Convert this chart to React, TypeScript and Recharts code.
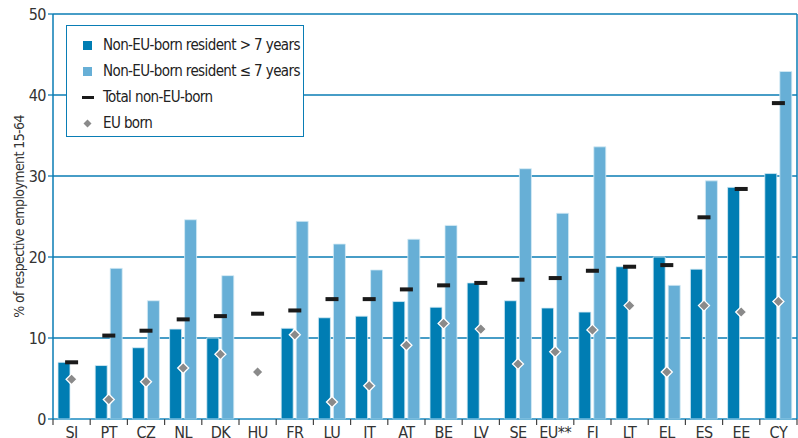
import { ComposedChart, Bar, Line, XAxis, YAxis, CartesianGrid, Label } from 'recharts';

const countries = ['SI', 'PT', 'CZ', 'NL', 'DK', 'HU', 'FR', 'LU', 'IT', 'AT', 'BE', 'LV', 'SE', 'EU**', 'FI', 'LT', 'EL', 'ES', 'EE', 'CY'];
const longResident = [7.0, 6.6, 8.8, 11.1, 10.0, null, 11.2, 12.5, 12.7, 14.5, 13.8, 16.8, 14.6, 13.7, 13.2, 18.8, 20.0, 18.5, 28.6, 30.3];
const recentResident = [null, 18.6, 14.6, 24.6, 17.7, null, 24.4, 21.6, 18.4, 22.2, 23.9, null, 30.9, 25.4, 33.6, null, 16.5, 29.4, null, 42.9];
const totalNonEU = [7.0, 10.3, 10.9, 12.3, 12.7, 13.0, 13.4, 14.8, 14.8, 16.0, 16.5, 16.8, 17.2, 17.4, 18.3, 18.8, 19.0, 24.9, 28.4, 39.0];
const euBorn = [4.9, 2.4, 4.6, 6.3, 8.0, 5.8, 10.4, 2.1, 4.1, 9.1, 11.8, 11.1, 6.8, 8.3, 11.0, 14.0, 5.8, 14.0, 13.2, 14.5];
const yTicks = [0, 10, 20, 30, 40, 50];

const data = countries.map((name, i) => ({
  name,
  long: longResident[i],
  recent: recentResident[i],
  total: totalNonEU[i],
  eu: euBorn[i],
}));

const WIDTH = 798;
const HEIGHT = 438;
const Y_AXIS_W = 53;
const PLOT_W = WIDTH - Y_AXIS_W - 1;
const STEP = PLOT_W / countries.length;

const DARK = '#007db3';
const LIGHT = '#67afd6';
const GRID = '#0a7db5';
const FONT = "'Liberation Sans Narrow', 'DejaVu Sans Condensed', 'Roboto', sans-serif";

const renderDash = (props: any) => {
  const { cx, cy, index } = props;
  if (cx == null || cy == null) return <g key={`d${index}`} />;
  return <rect key={`d${index}`} x={cx - 6.5} y={cy - 2} width={13} height={4} fill="#1a1a1a" />;
};

const renderDiamond = (props: any) => {
  const { cx, cy, index } = props;
  if (cx == null || cy == null) return <g key={`e${index}`} />;
  const r = 5.5;
  return (
    <path
      key={`e${index}`}
      d={`M${cx},${cy - r}L${cx + r},${cy}L${cx},${cy + r}L${cx - r},${cy}Z`}
      fill="#8a8a8a"
      stroke="#fff"
      strokeWidth={1.3}
    />
  );
};

const CountryTick = (props: any) => {
  const { x, y, payload, index } = props;
  const left = x - STEP / 2;
  return (
    <g>
      <line x1={left} y1={y} x2={left} y2={y + 6} stroke="#444" strokeWidth={1.2} />
      {index === countries.length - 1 && (
        <line x1={x + STEP / 2} y1={y} x2={x + STEP / 2} y2={y + 6} stroke="#444" strokeWidth={1.2} />
      )}
      <text x={x} y={y + 19} textAnchor="middle" fill="#333" fontSize={16} fontFamily={FONT} letterSpacing={-0.5}>
        {payload.value}
      </text>
    </g>
  );
};

const YTitle = (props: any) => {
  const { viewBox } = props;
  const cy = viewBox.y + viewBox.height / 2;
  return (
    <text
      x={24}
      y={cy}
      transform={`rotate(-90, 24, ${cy})`}
      textAnchor="middle"
      fill="#333"
      fontSize={14}
      fontFamily={FONT}
      letterSpacing={-0.6}
    >
      % of respective employment 15-64
    </text>
  );
};

const legendItems = [
  { label: 'Non-EU-born resident > 7 years', kind: 'dark' },
  { label: 'Non-EU-born resident \u2264 7 years', kind: 'light' },
  { label: 'Total non-EU-born', kind: 'dash' },
  { label: 'EU born', kind: 'diamond' },
];

const LegendBox = () => (
  <div
    style={{
      position: 'absolute',
      left: 66,
      top: 25,
      width: 236,
      height: 110,
      border: `1.5px solid ${GRID}`,
      background: '#fff',
      fontFamily: FONT,
      fontSize: 15,
      letterSpacing: -0.6,
      color: '#222',
      whiteSpace: 'nowrap',
    }}
  >
    {legendItems.map((item, i) => (
      <div key={item.label} style={{ position: 'absolute', left: 0, top: 9 + i * 26, height: 20, display: 'flex', alignItems: 'center' }}>
        <svg width={36} height={20}>
          {item.kind === 'dark' && <rect x={16} y={6} width={9} height={9} fill={DARK} />}
          {item.kind === 'light' && <rect x={16} y={6} width={9} height={9} fill={LIGHT} />}
          {item.kind === 'dash' && <rect x={15} y={9} width={12} height={3} fill="#1a1a1a" />}
          {item.kind === 'diamond' && <path d="M20.5,6.5L24.5,10.5L20.5,14.5L16.5,10.5Z" fill="#8a8a8a" />}
        </svg>
        <span>{item.label}</span>
      </div>
    ))}
  </div>
);

export default function App() {
  return (
    <div style={{ position: 'absolute', left: 0, top: 0, width: WIDTH, height: HEIGHT, background: '#fff' }}>
      <ComposedChart
        width={WIDTH}
        height={HEIGHT}
        data={data}
        margin={{ top: 14, right: 0, bottom: 0, left: 0 }}
        barSize={12}
        barGap={3}
      >
        <CartesianGrid vertical={false} stroke={GRID} strokeWidth={1.3} />
        <XAxis
          dataKey="name"
          height={19}
          interval={0}
          tickLine={false}
          tickSize={0}
          tickMargin={0}
          axisLine={{ stroke: '#5fb0d8', strokeWidth: 1 }}
          tick={<CountryTick />}
        />
        <YAxis
          width={Y_AXIS_W}
          domain={[0, 50]}
          ticks={yTicks}
          tickSize={5}
          tickMargin={2}
          axisLine={{ stroke: GRID, strokeWidth: 1.5 }}
          tickLine={{ stroke: GRID, strokeWidth: 1.3 }}
          tick={{ fill: '#333', fontSize: 16, fontFamily: FONT, letterSpacing: -0.5 }}
        >
          <Label content={<YTitle />} />
        </YAxis>
        <YAxis
          yAxisId="right"
          orientation="right"
          width={1}
          domain={[0, 50]}
          tick={false}
          tickLine={false}
          axisLine={{ stroke: GRID, strokeWidth: 1.5 }}
        />
        <Bar dataKey="long" fill={DARK} stroke="#d6ebf5" strokeWidth={0.8} isAnimationActive={false} />
        <Bar dataKey="recent" fill={LIGHT} stroke="#d6ebf5" strokeWidth={0.8} isAnimationActive={false} />
        <Line dataKey="total" stroke="none" dot={renderDash} activeDot={false} isAnimationActive={false} />
        <Line dataKey="eu" stroke="none" dot={renderDiamond} activeDot={false} isAnimationActive={false} />
      </ComposedChart>
      <LegendBox />
    </div>
  );
}
